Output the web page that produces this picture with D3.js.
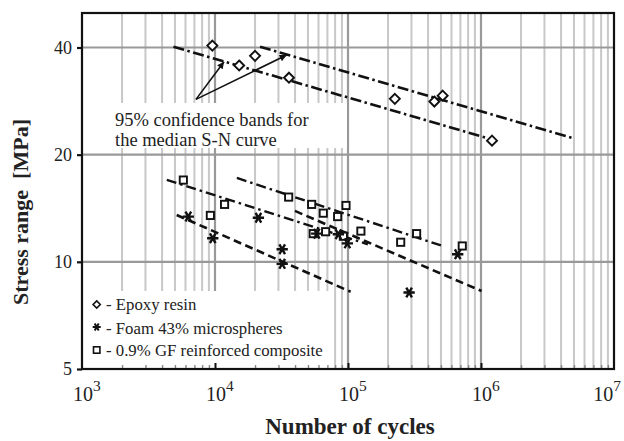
<!DOCTYPE html>
<html><head><meta charset="utf-8">
<script src="https://cdn.jsdelivr.net/npm/d3@7"></script>
<style>body{margin:0;background:#fff}svg{display:block}</style>
</head><body>
<svg id="c" width="624" height="441"></svg>
<script>
// ---- data ----
const xTickExps = [3, 4, 5, 6, 7];
const yTicks = [5, 10, 20, 40];
const epoxyN = [9550, 15200, 20000, 36000, 225000, 446000, 515000, 1210000];
const epoxyS = [40.5, 35.6, 37.9, 32.9, 28.7, 28.2, 29.3, 21.9];
const foamN = [6300, 9620, 21200, 32000, 32000, 58200, 84600, 98900, 288000, 668000];
const foamS = [13.4, 11.65, 13.3, 10.85, 9.87, 12.0, 11.95, 11.27, 8.2, 10.5];
const gfN = [5780, 9230, 11800, 35800, 53300, 65200, 83600, 96600, 54800, 67900, 92300, 125000, 249000, 328000, 723000];
const gfS = [16.97, 13.5, 14.5, 15.2, 14.5, 13.7, 13.4, 14.4, 12.0, 12.15, 11.8, 12.2, 11.35, 12.0, 11.08];
const epoxyUpper = [[21800, 40.2], [5.0e6, 22.2]];
const epoxyLower = [[4870, 40.2], [1.1e6, 22.3]];
const gfUpper = [[14600, 17.2], [507000, 11.1]];
const gfLower = [[4340, 17.0], [141000, 11.2]];
const foamUpper = [[39900, 13.9], [1.01e6, 8.28]];
const foamLower = [[5150, 13.54], [104700, 8.24]];
const arrowStart = [7190, 28.6];
const arrowTips = [[11700, 36.5], [34600, 38.1]];
const annotationLines = ["95% confidence bands for", "the median S-N curve"];
const legendLabels = ["- Epoxy resin", "- Foam 43% microspheres", "- 0.9% GF reinforced composite"];
const xTitle = "Number of cycles";
const yTitle = "Stress range  [MPa]";

// ---- layout ----
const L = 82, R = 614, T = 13, B = 369;
const FONT = "'Liberation Serif','Times New Roman',Times,serif";
const svg = d3.select("#c");
const x = d3.scaleLog().domain([1e3, 1e7]).range([L, R]);
const y = d3.scaleLog().domain([5, 50]).range([B, T]);

const minorX = [], majorX = [];
xTickExps.forEach(e => {
  majorX.push(Math.pow(10, e));
  if (e < 7) for (let k = 2; k <= 9; k++) minorX.push(k * Math.pow(10, e));
});

const grid = svg.append("g");
grid.selectAll(".mx").data(minorX).join("line")
  .attr("x1", d => x(d)).attr("x2", d => x(d)).attr("y1", T).attr("y2", B)
  .attr("stroke", "#c8c8c8").attr("stroke-width", 2);
grid.selectAll(".Mx").data(majorX.slice(1, -1)).join("line")
  .attr("x1", d => x(d)).attr("x2", d => x(d)).attr("y1", T).attr("y2", B)
  .attr("stroke", "#999").attr("stroke-width", 2.2);
grid.selectAll(".hy").data(yTicks.slice(1)).join("line")
  .attr("x1", L).attr("x2", R).attr("y1", d => y(d)).attr("y2", d => y(d))
  .attr("stroke", "#999").attr("stroke-width", 2.2);

// white boxes (annotation and legend)
svg.append("rect").attr("x", 108).attr("y", 103).attr("width", 239).attr("height", 45).attr("fill", "#fff");
svg.append("rect").attr("x", L).attr("y", 291).attr("width", 250).attr("height", B - 291).attr("fill", "#fff");

// bands
const line = d3.line().x(d => x(d[0])).y(d => y(d[1]));
const bands = [
  {d: epoxyUpper, dash: "11,3.5,2.5,3.5", w: 2.6},
  {d: epoxyLower, dash: "11,3.5,2.5,3.5", w: 2.6},
  {d: gfUpper, dash: "10,4,2.5,4", w: 2.4},
  {d: gfLower, dash: "10,4,2.5,4", w: 2.4},
  {d: foamUpper, dash: "8,4.5", w: 2.6},
  {d: foamLower, dash: "8,4.5", w: 2.6}
];
svg.append("g").selectAll("path").data(bands).join("path")
  .attr("d", b => line(b.d)).attr("fill", "none").attr("stroke", "#111")
  .attr("stroke-width", b => b.w).attr("stroke-dasharray", b => b.dash);

// markers
const mk = svg.append("g");
const diamond = (cx, cy, r) => `M${cx},${cy - r}L${cx + r},${cy}L${cx},${cy + r}L${cx - r},${cy}Z`;
mk.selectAll(".ep").data(epoxyN.map((n, i) => [n, epoxyS[i]])).join("path")
  .attr("d", d => diamond(x(d[0]), y(d[1]), 5)).attr("fill", "#fff").attr("stroke", "#111").attr("stroke-width", 1.9);
mk.selectAll(".gf").data(gfN.map((n, i) => [n, gfS[i]])).join("rect")
  .attr("x", d => x(d[0]) - 3.6).attr("y", d => y(d[1]) - 3.6).attr("width", 7.2).attr("height", 7.2)
  .attr("fill", "#fff").attr("stroke", "#111").attr("stroke-width", 1.9);
const ast = d3.symbol().type(d3.symbolAsterisk).size(90);
mk.selectAll(".fo").data(foamN.map((n, i) => [n, foamS[i]])).join("path")
  .attr("d", ast).attr("transform", d => `translate(${x(d[0])},${y(d[1])}) rotate(90)`)
  .attr("fill", "none").attr("stroke", "#111").attr("stroke-width", 2.4);

// arrows
const defs = svg.append("defs");
defs.append("marker").attr("id", "ah").attr("viewBox", "0 0 10 10").attr("refX", 10).attr("refY", 5)
  .attr("markerWidth", 11).attr("markerHeight", 7).attr("markerUnits", "userSpaceOnUse").attr("orient", "auto")
  .append("path").attr("d", "M0,0L10,5L0,10Z").attr("fill", "#111");
svg.append("g").selectAll("line").data(arrowTips).join("line")
  .attr("x1", x(arrowStart[0])).attr("y1", y(arrowStart[1]))
  .attr("x2", d => x(d[0])).attr("y2", d => y(d[1]))
  .attr("stroke", "#111").attr("stroke-width", 1.6).attr("marker-end", "url(#ah)");

// annotation text
svg.append("g").selectAll("text").data(annotationLines).join("text")
  .attr("x", 115).attr("y", (d, i) => 126 + i * 20)
  .attr("font-family", FONT).attr("font-size", 18.5).attr("fill", "#222").text(d => d);

// legend
const lg = svg.append("g");
const ly = [304.5, 327, 350];
const lb = [310, 333.5, 356];
lg.append("path").attr("d", diamond(96.7, ly[0], 3.6)).attr("fill", "#fff").attr("stroke", "#111").attr("stroke-width", 1.6);
lg.append("path").attr("d", d3.symbol().type(d3.symbolAsterisk).size(45)())
  .attr("transform", `translate(96.7,${ly[1]}) rotate(90)`).attr("fill", "none").attr("stroke", "#111").attr("stroke-width", 2);
lg.append("rect").attr("x", 93.5).attr("y", ly[2] - 3.2).attr("width", 6.4).attr("height", 6.4)
  .attr("fill", "#fff").attr("stroke", "#111").attr("stroke-width", 1.6);
lg.selectAll("text").data(legendLabels).join("text")
  .attr("x", 106).attr("y", (d, i) => lb[i])
  .attr("font-family", FONT).attr("font-size", 16.8).attr("fill", "#222").text(d => d);

// axes ticks
svg.append("g").attr("transform", `translate(0,${B})`)
  .call(d3.axisBottom(x).tickValues(minorX).tickSize(-4).tickFormat(""))
  .call(g => { g.select(".domain").remove(); g.selectAll("line").attr("stroke", "#888").attr("stroke-width", 1.4); });
svg.append("g").attr("transform", `translate(0,${B})`)
  .call(d3.axisBottom(x).tickValues(majorX.slice(1, -1)).tickSize(-6).tickFormat(""))
  .call(g => { g.select(".domain").remove(); g.selectAll("line").attr("stroke", "#111").attr("stroke-width", 2); });
svg.append("g").attr("transform", `translate(${L},0)`)
  .call(d3.axisLeft(y).tickValues(yTicks).tickSize(5).tickFormat(""))
  .call(g => { g.select(".domain").remove(); g.selectAll("line").attr("stroke", "#111").attr("stroke-width", 2.2); });

// border
svg.append("rect").attr("x", L).attr("y", T).attr("width", R - L).attr("height", B - T)
  .attr("fill", "none").attr("stroke", "#111").attr("stroke-width", 2.2);

// y tick labels
svg.append("g").selectAll("text").data(yTicks).join("text")
  .attr("x", 72).attr("y", d => y(d)).attr("dy", "0.36em").attr("text-anchor", "end")
  .attr("font-family", FONT).attr("font-size", 18).attr("fill", "#222").text(d => d);

// x tick labels with superscript
const xl = svg.append("g");
xTickExps.forEach(e => {
  const t = xl.append("text").attr("font-family", FONT).attr("fill", "#222").attr("y", 400.5);
  t.append("tspan").attr("font-size", 20).text("10");
  t.append("tspan").attr("font-size", 15.5).attr("dy", -10).text(e);
  const w = t.node().getComputedTextLength();
  const baseW = t.select("tspan").node().getComputedTextLength();
  let x0 = x(Math.pow(10, e)) - baseW / 2 + 1;
  x0 = Math.min(x0, 621 - w);
  t.attr("x", x0);
});

// axis titles
svg.append("text").attr("x", (L + R) / 2 + 2).attr("y", 434).attr("text-anchor", "middle")
  .attr("font-family", FONT).attr("font-weight", "bold").attr("font-size", 23).attr("fill", "#222").text(xTitle);
svg.append("text").attr("transform", `translate(28,212) rotate(-90)`).attr("text-anchor", "middle")
  .style("white-space", "pre")
  .attr("font-family", FONT).attr("font-weight", "bold").attr("font-size", 22).attr("fill", "#222").text(yTitle);
</script>
</body></html>
